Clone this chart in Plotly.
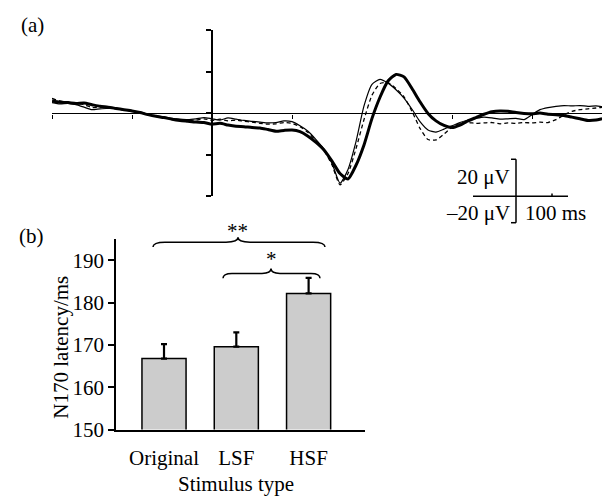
import plotly.graph_objects as go

# ---------------- data ----------------
# Panel (a): ERP waveforms (µV) sampled every 10 ms from -200 to 500 ms
time_ms = list(range(-200, 501, 10))

erp_thick = [3.0, 2.7, 2.6, 2.4, 2.5, 2.1, 1.7, 1.5, 1.2, 0.9,
             0.6, 0.2, -0.3, -0.7, -1.0, -1.4, -1.7, -1.9, -2.1, -2.2,
             -2.6, -2.4, -2.8, -3.1, -3.2, -3.4, -3.5, -3.9, -4.3, -4.1,
             -4.0, -4.4, -5.5, -7.0, -8.8, -11.5, -14.5, -15.8, -12.5, -7.6,
             -1.2, 3.9, 7.8, 9.4, 8.8, 6.0, 2.8, 0.0, -1.8, -2.9,
             -3.4, -2.8, -1.8, -1.0, -0.2, 0.4, 0.6, 0.5, 0.2, 0.0,
             -0.1, 0.1, -0.2, -0.3, -0.5, -0.9, -1.3, -1.7, -1.6, -1.2,
             -0.9]

erp_thin = [2.6, 2.3, 2.4, 2.1, 1.5, 0.9, 1.1, 1.2, 1.3, 0.9,
            0.7, 0.2, -0.2, -0.6, -0.9, -1.2, -1.4, -1.5, -1.3, -1.0,
            -1.3, -1.6, -1.1, -1.4, -1.7, -1.9, -2.1, -2.3, -2.2, -1.8,
            -2.0, -3.0, -4.3, -6.3, -8.6, -12.0, -16.8, -13.5, -6.8, 1.8,
            7.0, 8.2, 7.3, 5.7, 3.7, 1.0, -2.0, -4.0, -4.5, -3.8,
            -3.0, -2.2, -1.6, -1.2, -0.9, -1.1, -1.4, -1.3, -1.2, -1.5,
            -0.3, 0.9, 1.4, 1.7, 1.9, 1.8, 1.9, 1.7, 1.8, 1.6,
            1.7]

erp_dashed = [3.6, 3.0, 2.7, 2.4, 2.1, 1.4, 1.5, 1.3, 1.1, 0.8,
              0.5, 0.3, -0.2, -0.7, -1.0, -1.3, -1.5, -1.7, -1.6, -1.3,
              -1.7, -1.4, -1.8, -1.6, -1.9, -2.1, -2.4, -2.6, -2.5, -2.2,
              -2.4, -3.2, -4.6, -6.6, -8.9, -12.4, -17.2, -14.5, -8.5, -1.5,
              4.4, 7.2, 7.4, 6.0, 4.0, 0.5, -3.6, -6.3, -6.4, -5.0,
              -3.3, -2.4, -2.2, -2.4, -2.3, -2.2, -2.5, -2.3, -2.4, -2.2,
              -2.3, -2.1, -2.2, -1.5, -0.4, 0.5, 0.9, 1.1, 1.3, 1.5,
              1.5]

a_xticks = [-200, -100, 0, 100, 200, 300, 400, 500]
a_yticks = [-20, -10, 0, 10, 20]

# Panel (b): N170 latency
stim_types = ["Original", "LSF", "HSF"]
latency = [166.8, 169.6, 182.2]
latency_err = [3.4, 3.4, 3.7]
b_yticks = [150, 160, 170, 180, 190]

# ---------------- figure ----------------
W, H = 610, 499
FONT = "Liberation Serif, Times New Roman, serif"
FS = 21


def px(x):
    return x / W


def py(y):
    return 1 - y / H


fig = go.Figure()

line_styles = [
    (erp_thin, dict(color="black", width=1.2)),
    (erp_dashed, dict(color="black", width=1.3, dash="4px,3px")),
    (erp_thick, dict(color="black", width=3.0)),
]
for ys, ln in line_styles:
    fig.add_trace(go.Scatter(x=time_ms, y=ys, mode="lines",
                             line=dict(shape="spline", smoothing=0.6, **ln),
                             xaxis="x", yaxis="y", showlegend=False,
                             hoverinfo="skip"))

fig.add_trace(go.Bar(x=stim_types, y=latency, width=0.61,
                     marker=dict(color="#cccccc",
                                 line=dict(color="black", width=1.5)),
                     error_y=dict(type="data", array=latency_err,
                                  arrayminus=[0, 0, 0], symmetric=False,
                                  color="black", thickness=2.2, width=3),
                     xaxis="x2", yaxis="y2", showlegend=False))

fig.update_layout(
    width=W, height=H,
    margin=dict(l=0, r=0, t=0, b=0),
    paper_bgcolor="white", plot_bgcolor="white",
    font=dict(family=FONT, size=FS, color="black"),
    xaxis=dict(domain=[px(44), px(604)], range=[-200, 500],
               anchor="free", position=py(108),
               showline=True, linecolor="black", linewidth=1.3,
               ticks="outside", ticklen=4, tickwidth=1.2, tickcolor="black",
               tickvals=a_xticks, showticklabels=False,
               showgrid=False, zeroline=False),
    yaxis=dict(domain=[py(193), py(23)], range=[-20, 20],
               anchor="free", position=px(204),
               showline=True, linecolor="black", linewidth=1.8,
               ticks="outside", ticklen=5, tickwidth=1.5, tickcolor="black",
               tickvals=a_yticks, showticklabels=False,
               showgrid=False, zeroline=False),
    xaxis2=dict(domain=[px(108), px(357)], range=[-0.664, 2.78],
                anchor="y2", showline=True, linecolor="black", linewidth=1.5,
                ticks="", showgrid=False, zeroline=False,
                ticklabelstandoff=8,
                tickfont=dict(family=FONT, size=FS, color="black")),
    yaxis2=dict(domain=[py(432), py(237)], range=[150, 195],
                anchor="x2", showline=True, linecolor="black", linewidth=1.5,
                ticks="outside", ticklen=6, tickwidth=1.5, tickcolor="black",
                tickvals=b_yticks, showgrid=False, zeroline=False,
                tickfont=dict(family=FONT, size=FS, color="black")),
)

annotations = [
    dict(text="(a)", x=px(24), y=py(17)),
    dict(text="(b)", x=px(23), y=py(234)),
    dict(text="N170 latency/ms", x=px(53), y=py(348), textangle=-90),
    dict(text="Stimulus type", x=px(228), y=py(488)),
    dict(text="**", x=px(230), y=py(228)),
    dict(text="*", x=px(263), y=py(257)),
    dict(text="20 μV", x=px(504), y=py(173), xanchor="right"),
    dict(text="–20 μV", x=px(504), y=py(210), xanchor="right"),
    dict(text="100 ms", x=px(515), y=py(210), xanchor="left"),
]
for a in annotations:
    a.setdefault("xanchor", "center")
    fig.add_annotation(xref="paper", yref="paper", showarrow=False,
                       yanchor="middle",
                       font=dict(family=FONT, size=FS, color="black"),
                       **a)


def brace_path(x0, x1, xm, y, h, r):
    pts = [
        ("M", [(x0, y + h)]),
        ("Q", [(x0, y), (x0 + r, y)]),
        ("L", [(xm - r, y)]),
        ("Q", [(xm, y), (xm, y - h)]),
        ("Q", [(xm, y), (xm + r, y)]),
        ("L", [(x1 - r, y)]),
        ("Q", [(x1, y), (x1, y + h)]),
    ]
    s = ""
    for cmd, ps in pts:
        s += cmd + " " + " ".join(f"{px(a):.5f},{py(b):.5f}" for a, b in ps) + " "
    return s.strip()


shapes = [
    dict(type="path", path=brace_path(145, 317, 230, 240, 5, 12)),
    dict(type="path", path=brace_path(215, 312, 263, 272, 5, 9)),
    # scale bar
    dict(type="line", x0=px(508), x1=px(508), y0=py(155), y1=py(220)),
    dict(type="line", x0=px(503), x1=px(508), y0=py(155), y1=py(155)),
    dict(type="line", x0=px(503), x1=px(508), y0=py(220), y1=py(220)),
    dict(type="line", x0=px(465), x1=px(560), y0=py(193), y1=py(193)),
    dict(type="line", x0=px(544), x1=px(544), y0=py(190), y1=py(193)),
]
for s in shapes:
    fig.add_shape(xref="paper", yref="paper",
                  line=dict(color="black", width=1.5), **s)

fig.write_html("out.html")
